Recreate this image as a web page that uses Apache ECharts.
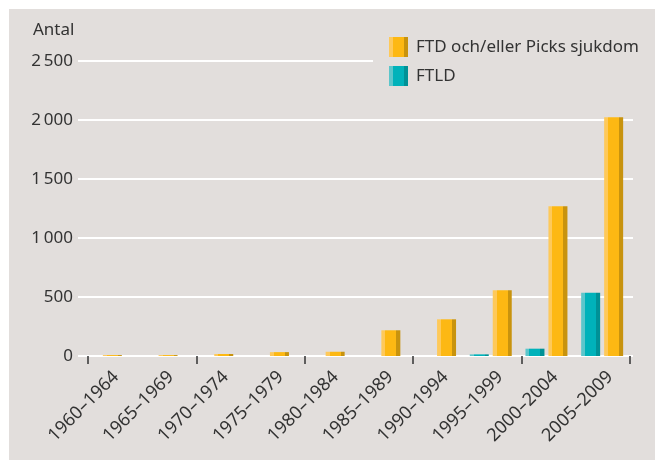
<!DOCTYPE html>
<html>
<head>
<meta charset="utf-8">
<script src="https://cdn.jsdelivr.net/npm/echarts@6/dist/echarts.min.js"></script>
<style>
  html, body { margin: 0; padding: 0; background: #fff; }
  #wrap { position: relative; width: 655px; height: 460px; background: #fff; }
  #bg { position: absolute; left: 9px; top: 9px; right: 0; bottom: 0; background: #e2dedc; }
  #chart { position: absolute; left: 0; top: 0; width: 655px; height: 460px; }
</style>
</head>
<body>
<div id="wrap">
  <div id="bg"></div>
  <div id="chart"></div>
</div>
<script>
// data
const periods = ["1960–1964", "1965–1969", "1970–1974", "1975–1979", "1980–1984",
  "1985–1989", "1990–1994", "1995–1999", "2000–2004", "2005–2009"];
const ftdValues = [8, 8, 17, 33, 36, 218, 311, 557, 1270, 2023];
const ftldValues = [0, 0, 0, 0, 0, 0, 0, 14, 62, 537];
const yTicks = [0, 500, 1000, 1500, 2000, 2500];

const ftdName = "FTD och/eller Picks sjukdom";
const ftldName = "FTLD";
const font = "Noto Sans";
const textColor = "#333";

function barColor(light, main, dark) {
  return {
    type: "linear", x: 0, y: 0, x2: 1, y2: 0,
    colorStops: [
      { offset: 0, color: light },
      { offset: 0.21, color: light },
      { offset: 0.21, color: main },
      { offset: 0.79, color: main },
      { offset: 0.79, color: dark },
      { offset: 1, color: dark },
    ],
  };
}

function fmt(v) {
  // thin space as thousands separator
  return v >= 1000 ? String(v).replace(/(\d)(\d{3})$/, "$1\u2009$2") : String(v);
}

const plotTop = 61;
const plotHeight = 295;
const yMax = yTicks[yTicks.length - 1];
const yStep = yTicks[1] - yTicks[0];

const hiddenY = (gridIndex) => ({
  type: "value", gridIndex: gridIndex, min: yTicks[0], max: yMax, interval: yStep,
  axisLine: { show: false }, axisTick: { show: false },
  axisLabel: { show: false }, splitLine: { show: false },
});

let myChart = echarts.init(document.getElementById("chart"));
let option = {
  animation: false,
  title: {
    text: "Antal",
    left: 28,
    top: 17,
    textStyle: { fontFamily: font, fontSize: 17, fontWeight: "normal", color: textColor },
  },
  legend: {
    orient: "vertical",
    left: 373,
    top: 29,
    padding: [8, 6, 8, 16],
    backgroundColor: "#e2dedc",
    itemWidth: 19,
    itemHeight: 20,
    itemGap: 9,
    icon: "rect",
    data: [ftdName, ftldName],
    textStyle: { fontFamily: font, fontSize: 17, color: textColor, padding: [0, 0, 0, 3] },
  },
  grid: [
    // gridlines + y labels
    { left: 78, right: 22, top: plotTop, height: plotHeight },
    // bars
    { left: 73, right: 25, top: plotTop, height: plotHeight },
    // ticks
    { left: 88, right: 25, top: plotTop, height: plotHeight },
    // category labels
    { left: 88.5, right: 17.5, top: plotTop, height: plotHeight },
  ],
  xAxis: [
    { type: "category", gridIndex: 0, data: periods, show: false },
    { type: "category", gridIndex: 1, data: periods,
      axisLine: { show: false }, axisTick: { show: false }, axisLabel: { show: false } },
    { type: "category", gridIndex: 2, data: periods, offset: 3,
      axisLine: { show: false }, axisLabel: { show: false },
      axisTick: { show: true, length: 8, lineStyle: { color: "#333", width: 1.5 } } },
    { type: "category", gridIndex: 3, data: periods,
      axisLine: { show: false }, axisTick: { show: false },
      axisLabel: { rotate: 45, margin: 18, interval: 0, fontFamily: font, fontSize: 18, color: textColor } },
  ],
  yAxis: [
    {
      type: "value", gridIndex: 0, min: yTicks[0], max: yMax, interval: yStep,
      axisLine: { show: false }, axisTick: { show: false },
      axisLabel: { margin: 5, fontFamily: font, fontSize: 17, color: textColor, formatter: fmt },
      splitLine: { show: true, lineStyle: { color: "#ffffff", width: 2 } },
    },
    hiddenY(1),
    hiddenY(2),
    hiddenY(3),
  ],
  series: [
    {
      name: ftldName,
      type: "bar",
      xAxisIndex: 1,
      yAxisIndex: 1,
      barWidth: 19,
      barGap: "21%",
      itemStyle: { color: barColor("#5cc6cb", "#00b2ba", "#009196") },
      data: ftldValues,
    },
    {
      name: ftdName,
      type: "bar",
      xAxisIndex: 1,
      yAxisIndex: 1,
      barWidth: 19,
      barGap: "21%",
      itemStyle: { color: barColor("#fec95a", "#fdb813", "#c8930e") },
      data: ftdValues,
    },
  ],
};
myChart.setOption(option);
</script>
</body>
</html>
